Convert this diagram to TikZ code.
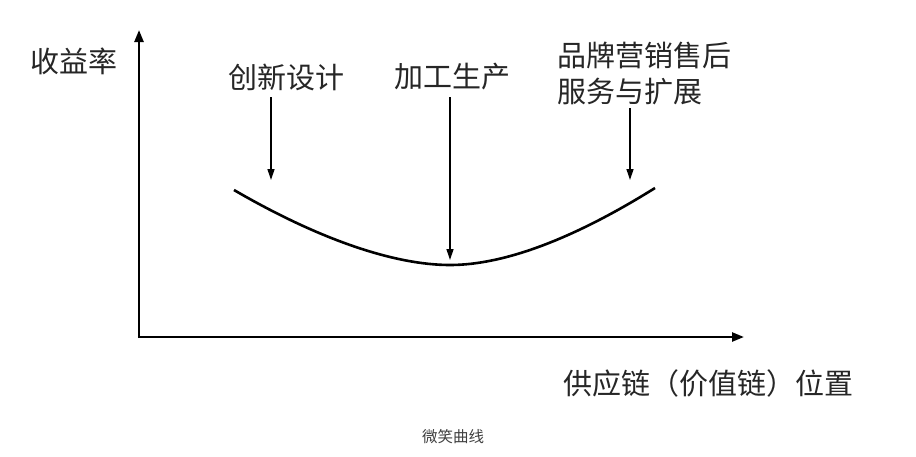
\documentclass[tikz,border=0pt]{standalone}
\usepackage{fontspec}
\setmainfont{Noto Sans CJK SC}
\usetikzlibrary{arrows.meta}
\begin{document}
\begin{tikzpicture}[x=1pt,y=-1pt,
  axis/.style={line width=2.4pt,-{Triangle[length=12pt,width=9pt]}},
  pointer/.style={line width=1.3pt,-{Triangle[length=11pt,width=7pt]}},
  curve/.style={line width=2.6pt},
  lbl/.style={font=\fontsize{29}{36}\selectfont,text=black!85,inner sep=0pt},
  captext/.style={font=\fontsize{15.5}{18}\selectfont,text=black!75,inner sep=0pt}]
\useasboundingbox[fill=white] (0,0) rectangle (916,456);
% axes
\coordinate (o) at (139,338);
\coordinate (ytop) at (139,30);
\coordinate (xstart) at (137.8,337);
\coordinate (xend) at (744,337);
\draw[axis] (o) -- (ytop);
\draw[axis] (xstart) -- (xend);
% labels
\node[lbl] (ylab) at (74,61) {收益率};
\node[lbl] (l1) at (286,77) {创新设计};
\node[lbl] (l2) at (452,77) {加工生产};
\node[lbl,align=left,anchor=north west] (l3) at (557,42) {品牌营销售后\\服务与扩展};
\node[lbl] (xlab) at (708,383) {供应链（价值链）位置};
\node[captext] (caption) at (453,437) {微笑曲线};
% curve
\coordinate (c0) at (234,190);
\coordinate (cm) at (450,265);
\coordinate (c1) at (655,188);
\draw[curve] (c0) .. controls (320,240) and (395,265) .. (cm)
  .. controls (505,265) and (575,238) .. (c1);
% pointers
\coordinate (s1) at (271,97);
\coordinate (s2) at (450,97);
\coordinate (s3) at (630,108);
\coordinate (t1) at (271,180);
\coordinate (t2) at (450,260);
\coordinate (t3) at (630,180);
\draw[pointer] (s1) -- (t1);
\draw[pointer] (s2) -- (t2);
\draw[pointer] (s3) -- (t3);
\end{tikzpicture}
\end{document}
